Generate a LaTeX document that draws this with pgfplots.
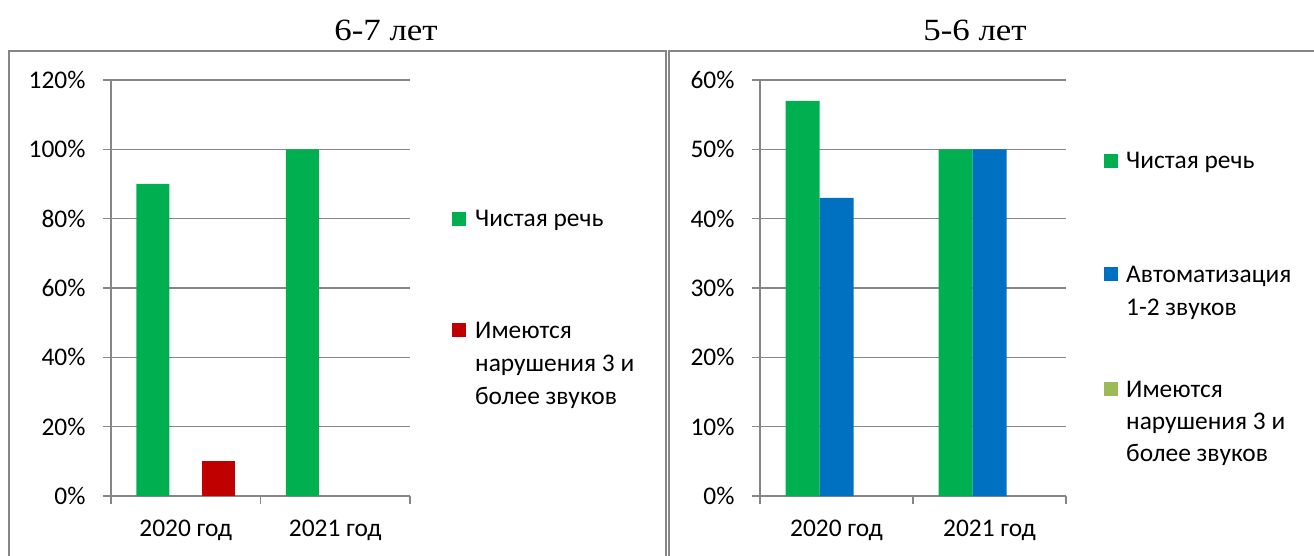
\documentclass[border=0pt]{standalone}
\usepackage{pgfplots}
\pgfplotsset{compat=1.18}
\usepackage{fontspec}
\setmainfont{Carlito}
\newfontfamily\titlefont{Liberation Serif}
\definecolor{cgreen}{HTML}{00B050}
\definecolor{cred}{HTML}{C00000}
\definecolor{cblue}{HTML}{0070C0}
\definecolor{clight}{HTML}{9BBB59}
\definecolor{gridgray}{HTML}{868686}
\newcommand{\lf}{\fontsize{25.5}{33}\selectfont}
\pgfplotsset{
  mybar/.style={
    scale only axis, ybar,
    axis lines*=left,
    axis line style={draw=gridgray, line width=1.3bp},
    ymajorgrids, grid style={draw=gridgray, line width=1.3bp},
    xmin=-0.5, xmax=1.5, ymin=0,
    xtick={-0.5,0.5,1.5}, xticklabels={},
    extra x ticks={0,1},
    extra x tick labels={2020 год,2021 год},
    extra x tick style={major tick length=0pt, grid=none, xticklabel style={yshift=-20bp}},
    tick align=outside, major tick length=8bp,
    tick style={draw=gridgray, line width=1.3bp},
    ticklabel style={font=\lf},
    /pgf/number format/assume math mode=true,
    yticklabel={\pgfmathprintnumber{\tick}\%},
    yticklabel style={xshift=-14bp},
    clip=false,
  }
}
\begin{document}
\begin{tikzpicture}[x=1bp,y=-1bp]
\useasboundingbox (0,0) rectangle (1314,556);
\draw[gridgray, line width=1.5bp] (9,600) -- (9,51) -- (666,51) -- (666,600);
\draw[gridgray, line width=1.5bp] (669,600) -- (669,51) -- (1340,51);
\node[anchor=base, font=\titlefont\fontsize{31}{36}\selectfont, xscale=1.13] at (386,41) {6-7 лет};
\node[anchor=base, font=\titlefont\fontsize{31}{36}\selectfont, xscale=1.13] at (975,41) {5-6 лет};
\coordinate (L) at (111,496);
\coordinate (R) at (760,496);
\begin{axis}[mybar, at={(L)}, anchor=south west, width=299bp, height=416bp,
  ymax=120, ytick={0,20,...,120}, bar width=33bp]
\addplot[fill=cgreen, draw=none, bar shift=-33bp] coordinates {(0,90) (1,100)};
\addplot[fill=cred, draw=none, bar shift=33bp] coordinates {(0,10)};
\end{axis}
\begin{axis}[mybar, at={(R)}, anchor=south west, width=306bp, height=416bp,
  ymax=60, ytick={0,10,...,60}, bar width=34bp]
\addplot[fill=cgreen, draw=none, bar shift=-34bp] coordinates {(0,57) (1,50)};
\addplot[fill=cblue, draw=none, bar shift=0bp] coordinates {(0,43) (1,50)};
\end{axis}
% legends
\fill[cgreen] (452,212) rectangle (466,226);
\node[anchor=base west, font=\lf, inner sep=0pt] at (475,227) {Чистая речь};
\fill[cred] (452,323) rectangle (466,337);
\node[anchor=base west, font=\lf, inner sep=0pt] at (475,338) {Имеются};
\node[anchor=base west, font=\lf, inner sep=0pt] at (475,371) {нарушения 3 и};
\node[anchor=base west, font=\lf, inner sep=0pt] at (475,404) {более звуков};
\fill[cgreen] (1104,154) rectangle (1118,168);
\node[anchor=base west, font=\lf, inner sep=0pt] at (1126,169) {Чистая речь};
\fill[cblue] (1104,267) rectangle (1118,281);
\node[anchor=base west, font=\lf, inner sep=0pt] at (1126,282) {Автоматизация};
\node[anchor=base west, font=\lf, inner sep=0pt] at (1126,315) {1-2 звуков};
\fill[clight] (1104,382) rectangle (1118,396);
\node[anchor=base west, font=\lf, inner sep=0pt] at (1126,397) {Имеются};
\node[anchor=base west, font=\lf, inner sep=0pt] at (1126,429) {нарушения 3 и};
\node[anchor=base west, font=\lf, inner sep=0pt] at (1126,461) {более звуков};
\end{tikzpicture}
\end{document}
